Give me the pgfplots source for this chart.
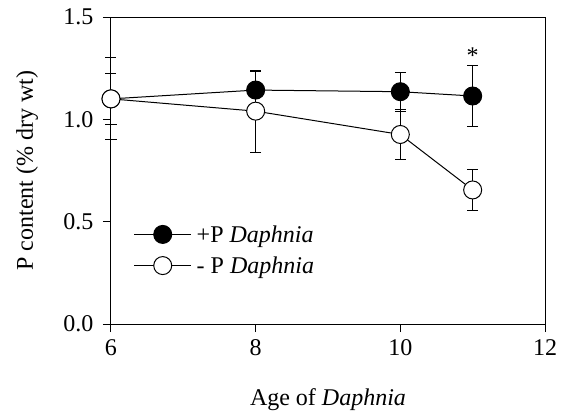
\documentclass[border=0pt]{standalone}
\usepackage{fontspec}
\setmainfont{Liberation Serif}
\usepackage{pgfplots}
\pgfplotsset{compat=1.18}
\begin{document}
\begin{tikzpicture}[font=\fontsize{24}{28}\selectfont]
\begin{axis}[
  at={(0,0)}, anchor=south west,
  scale only axis, width=434pt, height=307pt,
  xmin=6, xmax=12, ymin=0, ymax=1.5,
  xtick={6,8,10,12}, ytick={0,0.5,1.0,1.5},
  yticklabel style={/pgf/number format/fixed, /pgf/number format/fixed zerofill, /pgf/number format/precision=1, xshift=-6pt},
  xticklabel style={yshift=-4pt},
  /pgf/number format/assume math mode=true,
  tick label style={font=\fontsize{24}{28}\selectfont},
  label style={font=\fontsize{24}{28}\selectfont},
  tick align=outside, xtick pos=left, ytick pos=left,
  major tick length=8pt,
  tick style={line width=1pt, black},
  axis line style={line width=1pt},
  xlabel={Age of \textit{Daphnia}},
  ylabel={P content (\% dry wt)},
  xlabel style={at={(axis description cs:0.5,-0.245)}, anchor=center},
  ylabel style={at={(axis description cs:-0.1935,0.5)}, anchor=center},
  legend style={draw=none, fill=none, at={(axis description cs:0.045,0.335)}, anchor=north west,
    row sep=9pt, font=\fontsize{24}{28}\selectfont,
    nodes={inner xsep=5pt}},
  legend cell align=left,
  legend image code/.code={\draw[mark repeat=2,mark phase=2] plot coordinates {(0pt,0pt)(28.5pt,0pt)(57pt,0pt)};},
  clip=false,
]
\addplot[black, line width=1pt, mark=*, mark size=9pt, mark options={fill=black, line width=1pt},
  error bars/.cd, y dir=both, y explicit,
  error bar style={line width=1pt}, error mark options={rotate=90, mark size=5.5pt, line width=1pt}]
  coordinates {
  (6,1.10) +- (0,0.125)
  (8,1.143) +- (0,0.093)
  (10,1.135) +- (0,0.095)
  (11,1.114) +- (0,0.15)
  };
\addlegendentry{+P \textit{Daphnia}}
\addplot[black, line width=1pt, mark=*, mark size=9pt, mark options={fill=white, line width=1pt},
  error bars/.cd, y dir=both, y explicit,
  error bar style={line width=1pt}, error mark options={rotate=90, mark size=5.5pt, line width=1pt}]
  coordinates {
  (6,1.10) +- (0,0.20)
  (8,1.04) +- (0,0.20)
  (10,0.926) +- (0,0.12)
  (11,0.655) +- (0,0.10)
  };
\addlegendentry{- P \textit{Daphnia}}
\node at (axis cs:11,1.31) {*};
\end{axis}
\pgfresetboundingbox
\useasboundingbox (-111pt,-86pt) rectangle (456pt,324pt);
\end{tikzpicture}
\end{document}
